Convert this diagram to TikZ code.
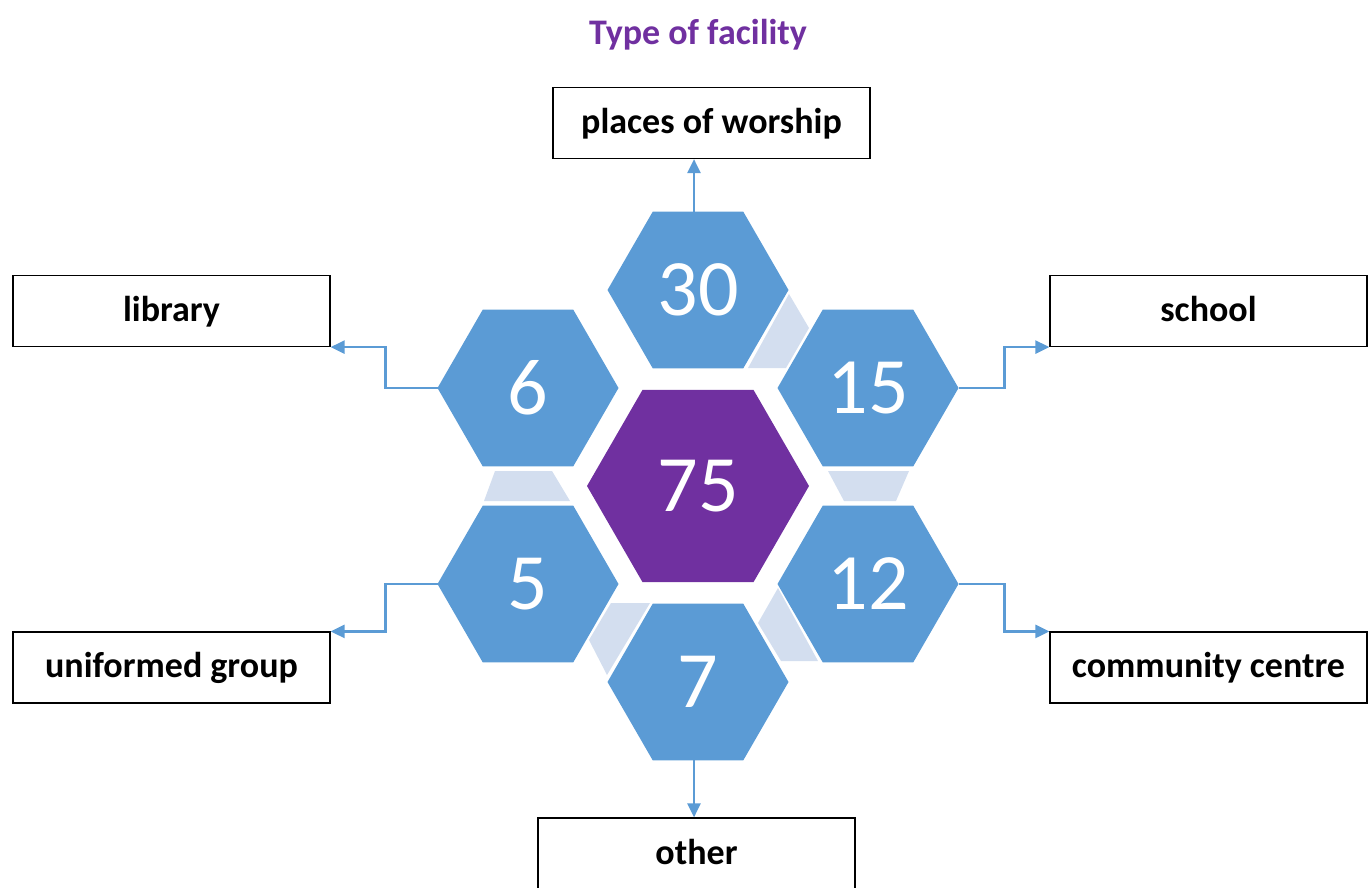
\documentclass[tikz,border=0pt]{standalone}
\usepackage{fontspec}
\setmainfont{Carlito}
\usetikzlibrary{shapes.geometric,arrows.meta,calc}
\definecolor{hexblue}{HTML}{5B9BD5}
\definecolor{hexpurple}{HTML}{7030A0}
\definecolor{palefill}{HTML}{D3DEEF}
\begin{document}
\begin{tikzpicture}[x=1pt,y=-1pt,
  sat/.style={regular polygon, regular polygon sides=6, minimum size=181pt,
    inner sep=0pt, outer sep=0pt, fill=hexblue, text=white,
    font=\fontsize{80}{90}\selectfont},
  ctr/.style={sat, minimum size=222pt, fill=hexpurple},
  lab/.style={draw=black, line width=1.2pt, minimum width=317pt,
    minimum height=71pt, inner sep=0pt, text height=26pt, text depth=6pt,
    font=\fontsize{36}{40}\selectfont\bfseries},
  conn/.style={draw=hexblue, line width=2.6pt,
    -{Triangle[length=14pt,width=13pt]}},
  palepart/.style={fill=palefill}]
\useasboundingbox (0,0) rectangle (1370,888);

% title
\node[font=\fontsize{36}{40}\selectfont\bfseries, text=hexpurple] (title) at (698,35) {Type of facility};

% pale connector pieces
\fill[palepart] (789,294) -- (809,328) -- (786,368) -- (748,368) -- cycle;
\fill[palepart] (828,471) -- (909,471) -- (896,501) -- (844,501) -- cycle;
\fill[palepart] (778,588) -- (758,623) -- (781,661) -- (818,661) -- cycle;
\fill[palepart] (611,603) -- (650,603) -- (607,675) -- (589,640) -- cycle;
\fill[palepart] (495,471) -- (552,471) -- (570,501) -- (484,501) -- cycle;

% hexagons
\node[ctr] (h75) at (698,486) {75};
\node[sat] (h30) at (698,290) {30};
\node[sat] (h6)  at (528,388) {6};
\node[sat] (h15) at (868,388) {15};
\node[sat] (h5)  at (528,584) {5};
\node[sat] (h12) at (868,584) {12};
\node[sat] (h7)  at (698,682) {7};

% label boxes
\node[lab] (pw)  at (711.5,123) {places of worship};
\node[lab] (lib) at (171.5,311) {library};
\node[lab] (sch) at (1208.5,311) {school};
\node[lab] (uni) at (171.5,667.5) {uniformed group};
\node[lab] (com) at (1208.5,667.5) {community centre};
\node[lab, minimum height=72pt] (oth) at (696.5,854) {other};

% connectors
\draw[conn] ([xshift=-4pt]h30.north) -- ([xshift=-4pt]h30.north |- pw.south);
\draw[conn] ([xshift=-4pt]h7.south) -- ([xshift=-4pt]h7.south |- oth.north);
\draw[conn] (h6.west) -- ++(-52,0) |- (lib.south east);
\draw[conn] (h5.west) -- ++(-52,0) |- (uni.north east);
\draw[conn] (h15.east) -- ++(46,0) |- (sch.south west);
\draw[conn] (h12.east) -- ++(46,0) |- (com.north west);
\end{tikzpicture}
\end{document}
